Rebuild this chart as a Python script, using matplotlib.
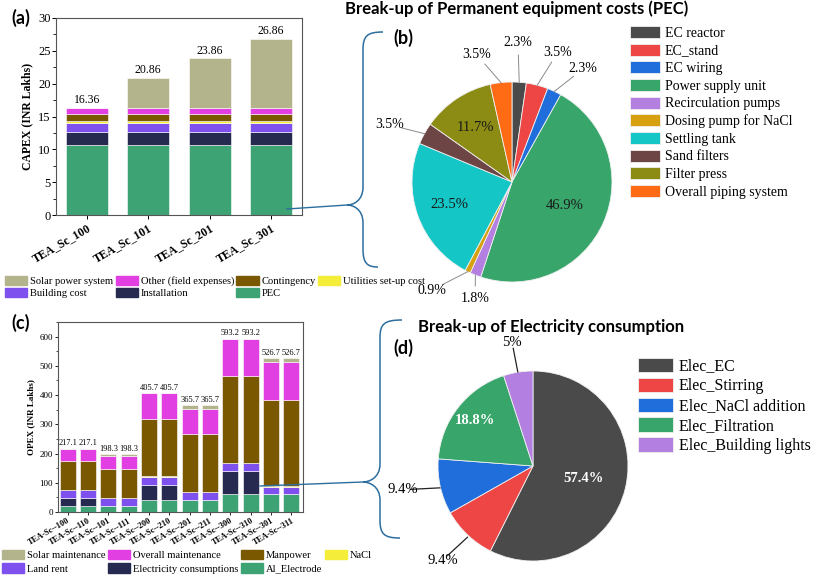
import matplotlib
matplotlib.use("Agg")
import matplotlib.pyplot as plt
import numpy as np
from matplotlib.patches import Patch, PathPatch
from matplotlib.path import Path
from matplotlib.ticker import AutoMinorLocator

# ---------------- data ----------------
capex_cases = ['TEA_Sc_100', 'TEA_Sc_101', 'TEA_Sc_201', 'TEA_Sc_301']
capex_pec = [10.62, 10.62, 10.62, 10.62]
capex_installation = [2.0, 2.0, 2.0, 2.0]
capex_building = [1.42, 1.42, 1.42, 1.42]
capex_utilities = [0.25, 0.25, 0.25, 0.25]
capex_contingency = [1.02, 1.02, 1.02, 1.02]
capex_other = [1.05, 1.05, 1.05, 1.05]
capex_solar = [0.0, 4.5, 7.5, 10.5]

opex_cases = ['TEA-Sc--100', 'TEA-Sc--110', 'TEA-Sc--101', 'TEA-Sc--111',
              'TEA-Sc--200', 'TEA-Sc--210', 'TEA-Sc--201', 'TEA-Sc--211',
              'TEA-Sc--300', 'TEA-Sc--310', 'TEA-Sc--301', 'TEA-Sc--311']
opex_al = [20, 20, 20, 20, 40, 40, 40, 40, 60, 60, 60, 60]
opex_elec = [27.1, 27.1, 0, 0, 54, 54, 0, 0, 81.5, 81.5, 0, 0]
opex_land = [28, 28, 28, 28, 27, 27, 27, 27, 27, 27, 27, 27]
opex_nacl = [0.5, 0.5, 0.5, 0.5, 0.5, 0.5, 0.5, 0.5, 0.5, 0.5, 0.5, 0.5]
opex_manpower = [100, 100, 100, 100, 198, 198, 198, 198, 297, 297, 297, 297]
opex_maint = [41.5, 41.5, 41.5, 41.5, 86.2, 86.2, 86.2, 86.2, 127.2, 127.2, 127.2, 127.2]
opex_solar = [0, 0, 8.3, 8.3, 0, 0, 14, 14, 0, 0, 15, 15]

pec_items = ['EC reactor', 'EC_stand', 'EC wiring', 'Power supply unit',
             'Recirculation pumps', 'Dosing pump for NaCl', 'Settling tank',
             'Sand filters', 'Filter press', 'Overall piping system']
pec_share = [2.3, 3.5, 2.3, 46.9, 1.8, 0.9, 23.5, 3.5, 11.7, 3.5]

elec_items = ['Elec_EC', 'Elec_Stirring', 'Elec_NaCl addition',
              'Elec_Filtration', 'Elec_Building lights']
elec_share = [57.4, 9.4, 9.4, 18.8, 5]

# ---------------- style ----------------
W, H = 817, 579
SERIF = 'Liberation Serif'
SANS = ['Lato', 'DejaVu Sans']
plt.rcParams['font.family'] = SERIF
plt.rcParams['axes.edgecolor'] = '#555555'

c_solar = '#b4b48c'
c_other = '#e23fe2'
c_cont = '#7a5800'
c_util = '#f4ee3a'
c_build = '#7e50ee'
c_inst = '#262a50'
c_pec = '#3ea374'

pie_b_colors = ['#4a4a4a', '#ee4545', '#1f6edb', '#38a66b', '#b37fe0',
                '#d6a010', '#14c6c6', '#6e4545', '#8c8c14', '#ff6a14']
pie_d_colors = ['#4a4a4a', '#ee4545', '#1f6edb', '#38a66b', '#b37fe0']
brace_col = '#2c6e9e'


def px_axes(fig, left, top, right, bottom):
    return fig.add_axes([left / W, 1 - bottom / H, (right - left) / W, (bottom - top) / H])


def fxy(x, y):
    return (x / W, 1 - y / H)


def stacked(ax, x, layers, width):
    bottom = np.zeros(len(x))
    for vals, col in layers:
        vals = np.asarray(vals, dtype=float)
        ax.bar(x, vals, width, bottom=bottom, color=col, edgecolor='white', linewidth=0.4)
        bottom += vals
    return bottom


def brace(fig, top, x_v, tip, bot, r=18):
    (xt, yt), (xtip, ytip), (xb, yb) = top, tip, bot
    verts = [
        (xt, yt), (x_v + 4, yt), (x_v, yt + 4), (x_v, yt + r),
        (x_v, ytip - r),
        (x_v, ytip - 4), (xtip + 6, ytip), (xtip, ytip),
        (xtip + 6, ytip), (x_v, ytip + 4), (x_v, ytip + r),
        (x_v, yb - r),
        (x_v, yb - 4), (x_v + 4, yb), (xb, yb),
    ]
    codes = [Path.MOVETO, Path.CURVE4, Path.CURVE4, Path.CURVE4, Path.LINETO,
             Path.CURVE4, Path.CURVE4, Path.CURVE4,
             Path.CURVE4, Path.CURVE4, Path.CURVE4, Path.LINETO,
             Path.CURVE4, Path.CURVE4, Path.CURVE4]
    verts = [fxy(x, y) for x, y in verts]
    fig.add_artist(PathPatch(Path(verts, codes), fill=False, edgecolor=brace_col,
                             linewidth=1.1, transform=fig.transFigure))


fig = plt.figure(figsize=(W / 100, H / 100), dpi=100)

# ---------------- (a) CAPEX ----------------
ax_a = px_axes(fig, 56, 18, 302, 215)
xa = np.arange(len(capex_cases))
tot_a = stacked(ax_a, xa, [(capex_pec, c_pec), (capex_installation, c_inst),
                           (capex_building, c_build), (capex_utilities, c_util),
                           (capex_contingency, c_cont), (capex_other, c_other),
                           (capex_solar, c_solar)], 0.69)
for xi, t in zip(xa, tot_a):
    ax_a.text(xi, t + 0.25, f'{t:.2f}', ha='center', va='bottom', fontsize=8.5)
ax_a.set_xlim(-0.5, 3.5)
ax_a.set_ylim(0, 30)
ax_a.set_yticks(range(0, 31, 5))
ax_a.yaxis.set_minor_locator(AutoMinorLocator(2))
ax_a.set_xticks(xa)
ax_a.set_xticklabels(capex_cases, rotation=30, ha='right', rotation_mode='anchor',
                     fontsize=8.5, fontweight='bold')
ax_a.tick_params(axis='y', labelsize=9, length=3, width=0.7, pad=1)
ax_a.tick_params(axis='y', which='minor', length=2, width=0.6)
ax_a.tick_params(axis='x', length=3, width=0.7, pad=2)
ax_a.set_ylabel('CAPEX (INR Lakhs)', fontsize=8.5, fontweight='bold', labelpad=3)

# ---------------- (c) OPEX ----------------
ax_c = px_axes(fig, 58, 322, 303, 512)
xc = np.arange(len(opex_cases))
tot_c = stacked(ax_c, xc, [(opex_al, c_pec), (opex_elec, c_inst), (opex_land, c_build),
                           (opex_nacl, c_util), (opex_manpower, c_cont),
                           (opex_maint, c_other), (opex_solar, c_solar)], 0.78)
for xi, t in zip(xc, tot_c):
    ax_c.text(xi, t + 4, f'{t:.1f}', ha='center', va='bottom', fontsize=6)
ax_c.set_xlim(-0.47, 11.57)
ax_c.set_ylim(0, 650)
ax_c.set_yticks(range(0, 601, 100))
ax_c.yaxis.set_minor_locator(AutoMinorLocator(2))
ax_c.set_xticks(xc)
ax_c.set_xticklabels(opex_cases, rotation=30, ha='right', rotation_mode='anchor',
                     fontsize=6, fontweight='bold')
ax_c.tick_params(axis='y', labelsize=6.5, length=2.5, width=0.6, pad=1)
ax_c.tick_params(axis='y', which='minor', length=1.5, width=0.5)
ax_c.tick_params(axis='x', length=2.5, width=0.6, pad=1)
ax_c.set_ylabel('OPEX (INR Lakhs)', fontsize=6.5, fontweight='bold', labelpad=3)

# ---------------- legends for bars ----------------
leg_kw = dict(ncol=4, fontsize=7.6, handlelength=2.1, handleheight=0.95,
              handletextpad=0.3, columnspacing=0.2, borderpad=0.1,
              borderaxespad=0, frameon=False)
ha_a = [Patch(color=c_solar, label='Solar power system'), Patch(color=c_build, label='Building cost'),
        Patch(color=c_other, label='Other (field expenses)'), Patch(color=c_inst, label='Installation'),
        Patch(color=c_cont, label='Contingency'), Patch(color=c_pec, label='PEC'),
        Patch(color=c_util, label='Utilities set-up cost')]
fig.legend(handles=ha_a, loc='upper left', bbox_to_anchor=fxy(4, 275), labelspacing=0.12, **leg_kw)
ha_c = [Patch(color=c_solar, label='Solar maintenance'), Patch(color=c_build, label='Land rent'),
        Patch(color=c_other, label='Overall maintenance'), Patch(color=c_inst, label='Electricity consumptions'),
        Patch(color=c_cont, label='Manpower'), Patch(color=c_pec, label='Al_Electrode'),
        Patch(color=c_util, label='NaCl')]
fig.legend(handles=ha_c, loc='upper left', bbox_to_anchor=fxy(1, 549), labelspacing=0.3, **leg_kw)


# ---------------- pies ----------------
def pie_panel(cx, cy, r, values, colors):
    ax = px_axes(fig, cx - r, cy - r, cx + r, cy + r)
    wedges, _ = ax.pie(values, colors=colors, startangle=90, counterclock=False,
                       radius=1, wedgeprops=dict(edgecolor='#f0f0f0', linewidth=0.6))
    ax.set_xlim(-1, 1)
    ax.set_ylim(-1, 1)
    ax.axis('off')
    return ax, wedges


def mid_angle(w):
    return np.deg2rad((w.theta1 + w.theta2) / 2)


# (b)
ax_b, wb = pie_panel(512, 182, 100, pec_share, pie_b_colors)
inside_b = {3: 0.58, 6: 0.66, 8: 0.66}
outside_b = {0: (0.06, 1.39), 1: (0.46, 1.30), 2: (0.71, 1.13), 4: (-0.37, -1.16),
             5: (-0.80, -1.08), 7: (-1.22, 0.57), 9: (-0.35, 1.27)}
for i, (w, v) in enumerate(zip(wb, pec_share)):
    a = mid_angle(w)
    if i in inside_b:
        rr = inside_b[i]
        ax_b.text(rr * np.cos(a), rr * np.sin(a), f'{v}%', ha='center', va='center',
                  fontsize=10.5, color='#1a1a1a')
    else:
        lx, ly = outside_b[i]
        ex, ey = np.cos(a), np.sin(a)
        d = np.hypot(lx - ex, ly - ey)
        ux, uy = (lx - ex) / d, (ly - ey) / d
        ax_b.plot([ex, lx - ux * 0.12], [ey, ly - uy * 0.12], color='#8a8a8a', lw=0.7,
                  clip_on=False)
        ax_b.text(lx, ly, f'{v}%', ha='center', va='center', fontsize=10, clip_on=False)
leg_b = ax_b.legend(wb, pec_items, loc='upper left', fontsize=10, frameon=False,
                    handlelength=2.15, handleheight=0.95, handletextpad=0.35,
                    labelspacing=0.28, borderaxespad=0, borderpad=0)
leg_b.set_bbox_to_anchor(fxy(630, 26), transform=fig.transFigure)

# (d)
ax_d, wd = pie_panel(533, 466, 95, elec_share, pie_d_colors)
inside_d = {0: 0.55, 3: 0.78}
outside_d = {1: ((-0.69, -0.75), (-0.95, -0.99)), 2: ((-0.98, -0.23), (-1.37, -0.25)),
             4: ((-0.16, 0.99), (-0.22, 1.30))}
for i, (w, v) in enumerate(zip(wd, elec_share)):
    a = mid_angle(w)
    lab = f'{v:g}%'
    if i in inside_d:
        rr = inside_d[i]
        ax_d.text(rr * np.cos(a), rr * np.sin(a), lab, ha='center', va='center',
                  fontsize=10.5, fontweight='bold', color='white')
    else:
        (sx, sy), (lx, ly) = outside_d[i]
        ex, ey = lx + (sx - lx) * 0.2, ly + (sy - ly) * 0.2
        ax_d.plot([sx, ex], [sy, ey], color='#222222', lw=0.9, clip_on=False)
        ax_d.text(lx, ly, lab, ha='center', va='center', fontsize=10.5, clip_on=False)
leg_d = ax_d.legend(wd, elec_items, loc='upper left', fontsize=11.5, frameon=False,
                    handlelength=2.2, handleheight=1.0, handletextpad=0.35, labelspacing=0.2,
                    borderaxespad=0, borderpad=0)
leg_d.set_bbox_to_anchor(fxy(638, 358), transform=fig.transFigure)

# ---------------- titles, panel labels, braces ----------------
fig.text(*fxy(517, 9), 'Break-up of Permanent equipment costs (PEC)', ha='center', va='center',
         fontsize=12, fontweight='bold', family=SANS)
fig.text(*fxy(551, 327), 'Break-up of Electricity consumption', ha='center', va='center',
         fontsize=12, fontweight='bold', family=SANS)
for lab, (x, y) in [('(a)', (21, 18)), ('(b)', (403, 38)), ('(c)', (21, 323)), ('(d)', (403, 348))]:
    fig.text(*fxy(x, y), lab, ha='center', va='center', fontsize=13, fontweight='bold',
             family=SANS)

brace(fig, (383, 32), 363, (347, 205), (378, 267))
brace(fig, (402, 320), 380, (363, 482), (400, 538))
fig.add_artist(plt.Line2D([287 / W, 347 / W], [1 - 209 / H, 1 - 205 / H], color=brace_col,
                          lw=1.0, transform=fig.transFigure))
fig.add_artist(plt.Line2D([260 / W, 363 / W], [1 - 486 / H, 1 - 482 / H], color=brace_col,
                          lw=1.0, transform=fig.transFigure))

fig.savefig('out.png', dpi=100)
